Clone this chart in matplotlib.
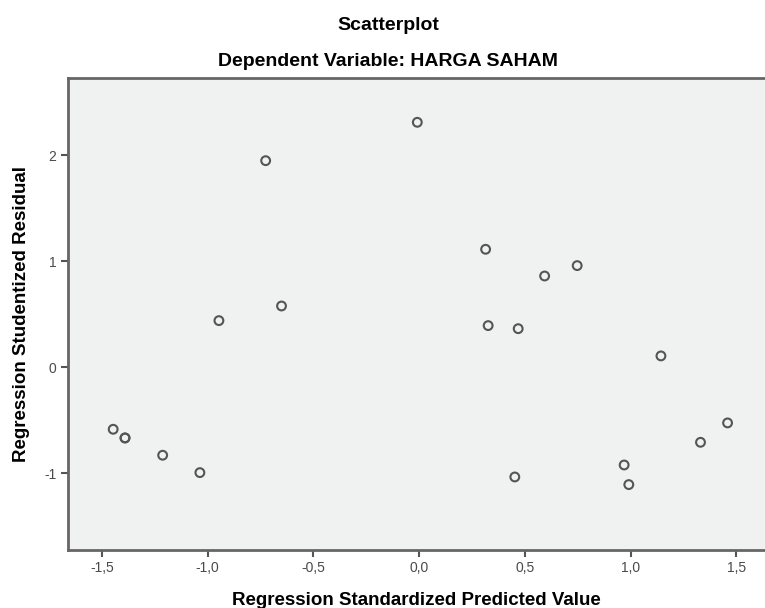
import matplotlib
matplotlib.use("Agg")
import matplotlib.pyplot as plt
from matplotlib.ticker import FuncFormatter

# standardized predicted value vs studentized residual
pred = [-1.447, -1.391, -1.391, -1.213, -1.037, -0.947, -0.726, -0.651,
        -0.009, 0.314, 0.326, 0.452, 0.468, 0.593, 0.747, 0.969, 0.991,
        1.143, 1.330, 1.458]
resid = [-0.585, -0.667, -0.667, -0.830, -0.994, 0.440, 1.949, 0.578,
         2.311, 1.113, 0.393, -1.035, 0.364, 0.861, 0.959, -0.922, -1.107,
         0.107, -0.708, -0.525]
xticks = [-1.5, -1.0, -0.5, 0.0, 0.5, 1.0, 1.5]
yticks = [-1, 0, 1, 2]

plt.rcParams["font.family"] = ["Liberation Sans", "DejaVu Sans"]

fig = plt.figure(figsize=(7.65, 6.08), dpi=100)
ax = fig.add_axes([0.0885, 0.0954, 0.9115, 0.7758])
ax.set_facecolor("#f0f1f1")

ax.scatter(pred, resid, s=40, facecolors="none", edgecolors="#555555",
           linewidths=1.5, zorder=3)

ax.set_xlim(-1.662, 1.635)
ax.set_ylim(-1.724, 2.726)
ax.set_xticks(xticks)
ax.set_yticks(yticks)
ax.xaxis.set_major_formatter(FuncFormatter(lambda v, p: f"{v:.1f}".replace(".", ",")))
ax.yaxis.set_major_formatter(FuncFormatter(lambda v, p: f"{v:.0f}"))
ax.tick_params(axis="both", length=5, width=1.5, color="#555555",
               labelsize=10, labelcolor="#4a4a4a", pad=3)

for side in ["left", "bottom", "top"]:
    ax.spines[side].set_color("#666666")
    ax.spines[side].set_linewidth(2)
ax.spines["right"].set_visible(False)

ax.set_xlabel("Regression Standardized Predicted Value", fontsize=13.5,
              fontweight="bold", labelpad=12)
ax.set_ylabel("Regression Studentized Residual", fontsize=13.5,
              fontweight="bold", labelpad=10)

fig.text(388 / 765, 1 - 25 / 608, "Scatterplot", ha="center", va="center",
         fontsize=14, fontweight="bold")
fig.text(388 / 765, 1 - 62 / 608, "Dependent Variable: HARGA SAHAM",
         ha="center", va="center", fontsize=14, fontweight="bold")

fig.savefig("out.png", dpi=100)
